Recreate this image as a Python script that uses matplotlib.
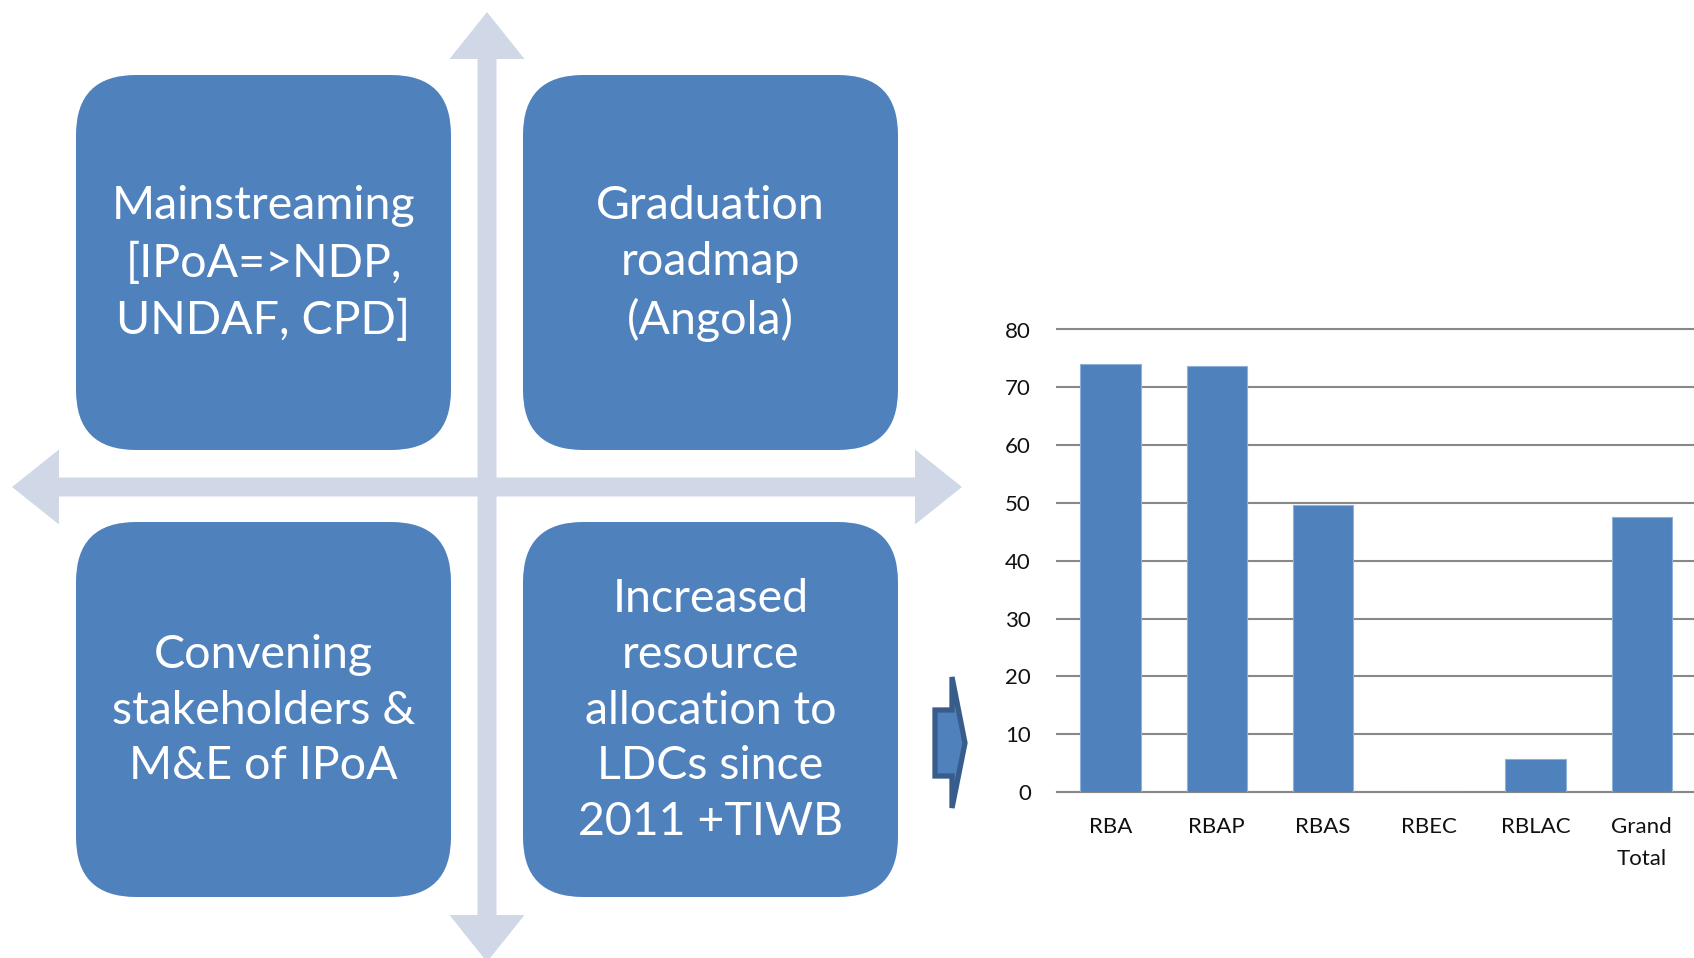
import matplotlib
matplotlib.use("Agg")
import matplotlib.pyplot as plt
from matplotlib.patches import FancyBboxPatch, Polygon

# ---- data ----
categories = ["RBA", "RBAP", "RBAS", "RBEC", "RBLAC", "Grand\nTotal"]
values = [74.0, 73.7, 49.6, 0.0, 5.7, 47.6]
yticks = [0, 10, 20, 30, 40, 50, 60, 70, 80]

box_texts = [
    "Mainstreaming\n[IPoA=>NDP,\nUNDAF, CPD]",
    "Graduation\nroadmap\n(Angola)",
    "Convening\nstakeholders &\nM&E of IPoA",
    "Increased\nresource\nallocation to\nLDCs since\n2011 +TIWB",
]

W, H = 1694, 958
plt.rcParams['font.family'] = ['Lato', 'DejaVu Sans']
fig = plt.figure(figsize=(W / 100, H / 100), dpi=100)

# background axes in pixel coords
bg = fig.add_axes([0, 0, 1, 1])
bg.set_xlim(0, W)
bg.set_ylim(H, 0)
bg.axis('off')

BLUE = '#4F81BD'
CROSS = '#D0D8E8'

# cross arrows
cx, cy = 487, 487
hs = 9.5   # half shaft
hh = 37.5  # half head
ext = 475
hl = 47
# vertical
bg.add_patch(Polygon([
    (cx, cy - ext), (cx + hh, cy - ext + hl), (cx + hs, cy - ext + hl),
    (cx + hs, cy + ext - hl), (cx + hh, cy + ext - hl), (cx, cy + ext),
    (cx - hh, cy + ext - hl), (cx - hs, cy + ext - hl),
    (cx - hs, cy - ext + hl), (cx - hh, cy - ext + hl)],
    closed=True, facecolor=CROSS, edgecolor='none', zorder=1))
# horizontal
bg.add_patch(Polygon([
    (cx - ext, cy), (cx - ext + hl, cy - hh), (cx - ext + hl, cy - hs),
    (cx + ext - hl, cy - hs), (cx + ext - hl, cy - hh), (cx + ext, cy),
    (cx + ext - hl, cy + hh), (cx + ext - hl, cy + hs),
    (cx - ext + hl, cy + hs), (cx - ext + hl, cy + hh)],
    closed=True, facecolor=CROSS, edgecolor='none', zorder=1))

# rounded boxes
boxes = [(76, 75), (523, 75), (76, 522), (523, 522)]
bw, bh, r = 375, 375, 60
for (x0, y0), txt in zip(boxes, box_texts):
    bg.add_patch(FancyBboxPatch((x0 + r, y0 + r), bw - 2 * r, bh - 2 * r,
                                boxstyle=f"round,pad={r},rounding_size={r}",
                                facecolor=BLUE, edgecolor='none', zorder=2))
    bg.text(x0 + bw / 2, y0 + bh / 2 + 1, txt, color='white', fontsize=33.5,
            ha='center', va='center', linespacing=1.40, zorder=3)

# small notched arrow
bg.add_patch(Polygon([
    (935, 710), (952, 710), (952, 677), (965, 743), (952, 808),
    (952, 776), (935, 776)],
    closed=True, facecolor=BLUE, edgecolor='#385D8A', linewidth=3.8,
    joinstyle='miter', zorder=3))

# ---- bar chart ----
left = 1057.4 / W
right = 1695 / W
bottom = 1 - 792 / H
top = 1 - 329.5 / H
ax = fig.add_axes([left, bottom, right - left, top - bottom])
x = list(range(len(categories)))
ax.bar(x, values, width=0.57, color=BLUE, edgecolor='#8FB0D8', linewidth=0.8,
       zorder=3)
ax.set_xlim(-0.5, 5.5)
ax.set_ylim(0, 80)
ax.set_yticks(yticks)
ax.set_xticks(x)
ax.set_xticklabels(categories, linespacing=1.75)
ax.yaxis.grid(True, color='#888888', linewidth=1.5, zorder=0)
for gl in ax.yaxis.get_gridlines():
    gl.set_clip_on(False)
ax.set_axisbelow(True)
for s in ['top', 'right', 'left']:
    ax.spines[s].set_visible(False)
ax.spines['bottom'].set_color('#888888')
ax.spines['bottom'].set_linewidth(1.5)
ax.tick_params(axis='both', length=0, labelsize=16, colors='#111111')
ax.tick_params(axis='y', pad=19)
ax.tick_params(axis='x', pad=18)
for lbl in ax.get_xticklabels():
    lbl.set_verticalalignment('top')
ax.set_facecolor('none')

fig.savefig('out.png', dpi=100)
